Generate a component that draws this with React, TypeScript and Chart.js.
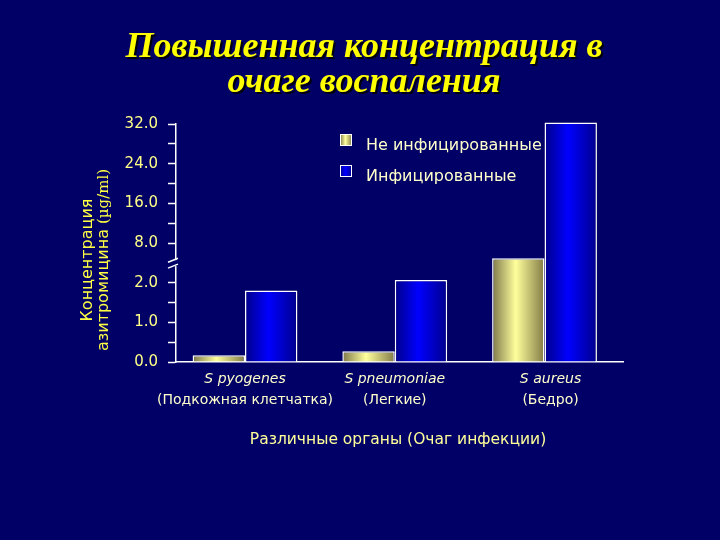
import React, { useEffect, useRef } from 'react';
import { Chart, registerables } from 'chart.js';

Chart.register(...registerables);

// ---- data ----
const speciesLabels = ['S pyogenes', 'S pneumoniae', 'S aureus'];
const siteLabels = ['(Подкожная клетчатка)', '(Легкие)', '(Бедро)'];
const seriesNames = ['Не инфицированные', 'Инфицированные'];
const uninfectedValues = [0.17, 0.27, 5.7];
const infectedValues = [1.8, 2.4, 32.3];
const yTickValues = [0, 1, 2, 8, 16, 24, 32];
const breakMarkValues = [4.5, 5.4];
const titleLines = ['Повышенная концентрация в', 'очаге воспаления'];
const yTitleMain = 'Концентрация';
const yTitleSub = 'азитромицина';
const yTitleUnit = '(µg/ml)';
const xTitle = 'Различные органы (Очаг инфекции)';

// piecewise mapping of a real value onto the broken axis (one unit per labelled tick)
function toAxis(v: number): number {
  const t = yTickValues;
  for (let i = 0; i < t.length - 1; i++) {
    if (v <= t[i + 1]) return i + (v - t[i]) / (t[i + 1] - t[i]);
  }
  const n = t.length - 1;
  return n + (v - t[n]) / (t[n] - t[n - 1]);
}

const BG = '#000066';
const SANS = '"DejaVu Sans", Verdana, sans-serif';

function yellowGradient(ctx: CanvasRenderingContext2D, x0: number, x1: number) {
  const g = ctx.createLinearGradient(x0, 0, x1, 0);
  g.addColorStop(0, '#7d784a');
  g.addColorStop(0.45, '#ffff9c');
  g.addColorStop(1, '#837b46');
  return g;
}
function blueGradient(ctx: CanvasRenderingContext2D, x0: number, x1: number) {
  const g = ctx.createLinearGradient(x0, 0, x1, 0);
  g.addColorStop(0, '#00008a');
  g.addColorStop(0.45, '#0000ff');
  g.addColorStop(1, '#00008c');
  return g;
}
const gradientMakers = [yellowGradient, blueGradient];

const decorPlugin = {
  id: 'decor',
  beforeDraw(chart: any) {
    const { ctx, width, height } = chart;
    ctx.save();
    ctx.fillStyle = BG;
    ctx.fillRect(0, 0, width, height);
    ctx.restore();
  },
  beforeDatasetsDraw(chart: any) {
    const ctx = chart.ctx;
    chart.data.datasets.forEach((_: any, di: number) => {
      const meta = chart.getDatasetMeta(di);
      meta.data.forEach((el: any) => {
        const { x, width } = el.getProps(['x', 'width'], true);
        el.options.backgroundColor = gradientMakers[di](ctx, x - width / 2, x + width / 2);
      });
    });
  },
  afterDraw(chart: any) {
    const { ctx, chartArea } = chart;
    const xs = chart.scales.x;
    const ys = chart.scales.y;
    ctx.save();

    // title
    ctx.font = 'italic bold 36px "Liberation Serif", "Times New Roman", serif';
    ctx.fillStyle = '#ffff00';
    ctx.textAlign = 'center';
    ctx.textBaseline = 'alphabetic';
    ctx.shadowColor = 'rgba(0,0,0,0.85)';
    ctx.shadowOffsetX = 2;
    ctx.shadowOffsetY = 2;
    ctx.fillText(titleLines[0], 364, 57);
    ctx.fillText(titleLines[1], 364, 92);
    ctx.shadowColor = 'transparent';
    ctx.shadowOffsetX = 0;
    ctx.shadowOffsetY = 0;

    // y axis title (rotated)
    const yc = 260;
    ctx.save();
    ctx.translate(88, yc);
    ctx.rotate(-Math.PI / 2);
    ctx.font = `16px ${SANS}`;
    ctx.fillStyle = '#ffff44';
    ctx.textBaseline = 'middle';
    ctx.textAlign = 'center';
    ctx.fillText(yTitleMain, 0, 0);
    ctx.restore();

    ctx.save();
    ctx.translate(104, yc);
    ctx.rotate(-Math.PI / 2);
    ctx.textBaseline = 'middle';
    ctx.textAlign = 'left';
    ctx.font = `16px ${SANS}`;
    const wA = ctx.measureText(yTitleSub).width;
    ctx.font = '15px "DejaVu Serif", serif';
    const wB = ctx.measureText(yTitleUnit).width;
    const gap = 5;
    const start = -(wA + gap + wB) / 2;
    ctx.fillStyle = '#ffff44';
    ctx.font = `16px ${SANS}`;
    ctx.fillText(yTitleSub, start, 0);
    ctx.font = '15px "DejaVu Serif", serif';
    ctx.fillText(yTitleUnit, start + wA + gap, 0);
    ctx.restore();

    // category labels
    ctx.textAlign = 'center';
    ctx.textBaseline = 'middle';
    ctx.fillStyle = '#ffffcc';
    speciesLabels.forEach((lab, i) => {
      const x = xs.getPixelForValue(i) + (i === 2 ? 6 : 0);
      ctx.font = `italic 14px ${SANS}`;
      ctx.fillText(lab, x, 379);
      ctx.font = `14px ${SANS}`;
      ctx.fillText(siteLabels[i], x, 400);
    });

    // x axis title
    ctx.font = `15.5px ${SANS}`;
    ctx.fillStyle = '#ffff99';
    ctx.fillText(xTitle, 398, 440);

    // legend
    const lx = 340;
    const ly = [134, 165];
    seriesNames.forEach((name, i) => {
      ctx.fillStyle = gradientMakers[i](ctx, lx, lx + 12);
      ctx.fillRect(lx, ly[i], 12, 12);
      ctx.strokeStyle = '#ffffff';
      ctx.lineWidth = 1;
      ctx.strokeRect(lx + 0.5, ly[i] + 0.5, 11, 11);
      ctx.fillStyle = '#ffffcc';
      ctx.font = `16px ${SANS}`;
      ctx.textAlign = 'left';
      ctx.textBaseline = 'alphabetic';
      ctx.fillText(name, 366, ly[i] + 16);
    });

    // axis break
    const axisX = chartArea.left;
    const yb = breakMarkValues.map((v) => ys.getPixelForValue(toAxis(v)));
    const yTop = Math.min(...yb);
    const yBot = Math.max(...yb);
    ctx.fillStyle = BG;
    ctx.fillRect(axisX - 2, yTop, 4, yBot - yTop);
    ctx.strokeStyle = '#ffffff';
    ctx.lineWidth = 1.5;
    yb.forEach((y) => {
      ctx.beginPath();
      ctx.moveTo(axisX - 8, y + 2);
      ctx.lineTo(axisX + 2, y - 2);
      ctx.stroke();
    });

    ctx.restore();
  },
};

export default function App() {
  const ref = useRef<HTMLCanvasElement>(null);

  useEffect(() => {
    if (!ref.current) return;
    const placeholder = () => '#888888';
    const chart = new Chart(ref.current, {
      type: 'bar',
      data: {
        datasets: [
          {
            label: seriesNames[0],
            data: uninfectedValues.map((v, i) => ({ x: i, y: toAxis(v) })),
            backgroundColor: placeholder,
            borderColor: '#ffffff',
            borderWidth: 1.5,
            categoryPercentage: 0.7,
            barPercentage: 1.0,
            clip: false,
          },
          {
            label: seriesNames[1],
            data: infectedValues.map((v, i) => ({ x: i, y: toAxis(v) })),
            backgroundColor: placeholder,
            borderColor: '#ffffff',
            borderWidth: 1.5,
            categoryPercentage: 0.7,
            barPercentage: 1.0,
            clip: false,
          },
        ],
      } as any,
      options: {
        responsive: false,
        animation: false,
        layout: { padding: { left: 76, right: 97, top: 124, bottom: 178 } },
        plugins: {
          legend: { display: false },
          title: { display: false },
          tooltip: { enabled: false },
        },
        scales: {
          x: {
            type: 'linear',
            offset: false,
            min: -0.4608,
            max: 2.524,
            ticks: { display: false, stepSize: 1, includeBounds: false },
            grid: { display: false, offset: false },
            border: { display: true, color: '#ffffff', width: 1.5 },
            afterFit: (s: any) => {
              s.height = 0;
            },
          },
          y: {
            type: 'linear',
            min: 0,
            max: 6,
            afterFit: (s: any) => {
              s.width = 100;
            },
            ticks: {
              stepSize: 0.5,
              autoSkip: false,
              padding: 10,
              color: '#ffff88',
              font: { family: SANS, size: 15 },
              callback: (v: any) => (Number.isInteger(v) ? yTickValues[v].toFixed(1) : ''),
            },
            grid: {
              drawOnChartArea: false,
              drawTicks: true,
              tickLength: 8,
              tickWidth: 1.5,
              color: '#ffffff',
              tickColor: (c: any) =>
                c.tick && Math.abs(c.tick.value - 2.5) < 1e-6 ? 'rgba(0,0,0,0)' : '#ffffff',
            },
            border: { display: true, color: '#ffffff', width: 1.5 },
          },
        },
      } as any,
      plugins: [decorPlugin],
    });
    return () => chart.destroy();
  }, []);

  return (
    <div
      style={{
        position: 'fixed',
        left: 0,
        top: 0,
        width: 720,
        height: 540,
        background: BG,
      }}
    >
      <canvas ref={ref} width={720} height={540} style={{ display: 'block', width: 720, height: 540 }} />
    </div>
  );
}
